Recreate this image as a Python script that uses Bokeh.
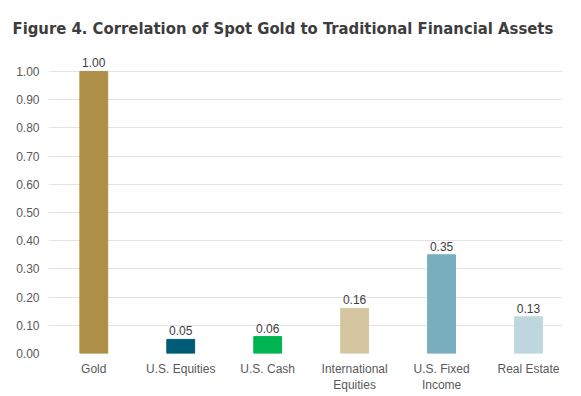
from bokeh.plotting import figure
from bokeh.models import ColumnDataSource, Range1d, FixedTicker, LabelSet
from bokeh.core.properties import value
from bokeh.embed import file_html
from bokeh.resources import INLINE

title_text = "Figure 4. Correlation of Spot Gold to Traditional Financial Assets"
categories = ["Gold", "U.S. Equities", "U.S. Cash", "International\nEquities", "U.S. Fixed\nIncome", "Real Estate"]
values = [1.00, 0.05, 0.06, 0.16, 0.35, 0.13]
colors = ["#AD8F48", "#005B76", "#00B451", "#D6C5A1", "#78AEBE", "#BED7DE"]
y_ticks = [0.0, 0.1, 0.2, 0.3, 0.4, 0.5, 0.6, 0.7, 0.8, 0.9, 1.0]

xs = list(range(len(categories)))
src = ColumnDataSource(dict(x=xs, top=values, color=colors,
                            label=["%.2f" % v for v in values]))

p = figure(width=579, height=395, output_backend="svg", toolbar_location=None,
           x_range=Range1d(-0.521, 5.391), y_range=Range1d(0, 1.06),
           min_border_left=48, min_border_right=17, min_border_bottom=41,
           min_border_top=54)
p.outline_line_color = None
p.background_fill_color = "white"

p.title.text = title_text
p.title.text_font = "DejaVu Sans Condensed, Liberation Sans Narrow, Roboto Condensed, Open Sans"
p.title.text_font_style = "bold"
p.title.text_font_size = "16.5px"
p.title.text_color = "#3d3d3d"
p.title.align = "left"
p.title.vertical_align = "top"
p.title.offset = -36
p.title.standoff = 30

p.vbar(x="x", top="top", width=0.32, color="color", source=src)

labels = LabelSet(x="x", y="top", text="label", source=src, text_align="center",
                  text_baseline="bottom", y_offset=4, text_font=value("Liberation Sans"),
                  text_font_size="12px", text_color="#404040")
p.add_layout(labels)

p.xaxis.ticker = FixedTicker(ticks=xs)
p.xaxis.major_label_overrides = {i: c for i, c in enumerate(categories)}
p.yaxis.ticker = FixedTicker(ticks=y_ticks)
p.yaxis.major_label_overrides = {t: "%.2f" % t for t in y_ticks}

for ax in (p.xaxis, p.yaxis):
    ax.axis_line_color = None
    ax.major_tick_line_color = None
    ax.minor_tick_line_color = None
    ax.major_tick_out = 0
    ax.major_tick_in = 0
    ax.minor_tick_out = 0
    ax.minor_tick_in = 0
    ax.major_label_text_font = "Liberation Sans"
    ax.major_label_text_font_size = "12px"
    ax.major_label_text_color = "#595959"
p.xaxis.major_label_standoff = 8
p.yaxis.major_label_standoff = 9

p.xgrid.grid_line_color = None
p.ygrid.ticker = FixedTicker(ticks=y_ticks)
p.ygrid.grid_line_color = "#E3E3E3"
p.ygrid.grid_line_width = 1

open("out.html", "w").write(file_html(p, INLINE))
